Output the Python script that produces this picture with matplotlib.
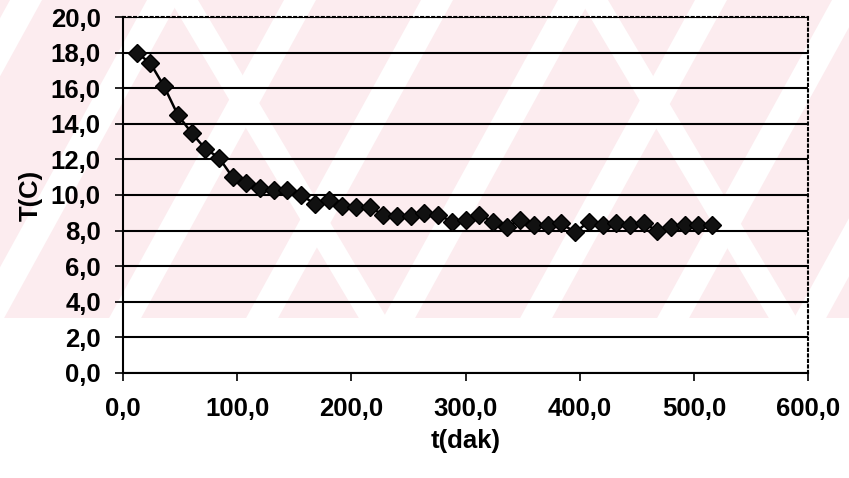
import matplotlib
matplotlib.use('Agg')
import matplotlib.pyplot as plt
from matplotlib.patches import Polygon, Rectangle
from matplotlib.ticker import FuncFormatter

plt.rcParams['font.family'] = ['Liberation Sans', 'DejaVu Sans']
plt.rcParams['font.weight'] = 'bold'

## Datos: temperatura vs tiempo
t_dak = [12, 24, 36, 48, 60, 72, 84, 96, 108, 120, 132, 144, 156, 168, 180,
         192, 204, 216, 228, 240, 252, 264, 276, 288, 300, 312, 324, 336, 348,
         360, 372, 384, 396, 408, 420, 432, 444, 456, 468, 480, 492, 504, 516]
temp = [18.0, 17.4, 16.1, 14.5, 13.5, 12.6, 12.1, 11.0, 10.7, 10.4, 10.3,
        10.3, 10.0, 9.5, 9.7, 9.4, 9.3, 9.3, 8.9, 8.8, 8.8, 9.0, 8.9, 8.5,
        8.6, 8.9, 8.5, 8.2, 8.6, 8.3, 8.3, 8.4, 7.9, 8.5, 8.3, 8.4, 8.3,
        8.4, 8.0, 8.2, 8.3, 8.3, 8.3]
xticks = [0, 100, 200, 300, 400, 500, 600]
yticks = [0, 2, 4, 6, 8, 10, 12, 14, 16, 18, 20]

W, H = 849, 478
fig = plt.figure(figsize=(W / 100, H / 100), dpi=100)

# fondo: marca de agua rosa con franjas diagonales
def px(pts):
    return [(x / W, 1 - y / H) for x, y in pts]

pink = '#fcecef'
band = Rectangle((0, 1 - 318 / H), 1, 318 / H, transform=fig.transFigure,
                 facecolor=pink, edgecolor='none', zorder=-5)
fig.add_artist(band)
for k in range(-3, 7):
    x0 = 245 + 137 * k
    p = Polygon(px([(x0, 320), (x0 + 32, 320), (x0 + 208, 0), (x0 + 176, 0)]),
                closed=True, transform=fig.transFigure, facecolor='white',
                edgecolor='none', zorder=-4)
    fig.add_artist(p)
    p.set_clip_path(band)
for x0 in [580, 170]:
    p = Polygon(px([(x0, 0), (x0 + 28, 0), (x0 + 28 + 190, 320), (x0 + 190, 320)]),
                closed=True, transform=fig.transFigure, facecolor='white',
                edgecolor='none', zorder=-4)
    fig.add_artist(p)
    p.set_clip_path(band)

ax = fig.add_axes([123 / W, 1 - 373 / H, (808 - 123) / W, (373 - 17) / H])
ax.set_facecolor('none')

ax.plot(t_dak, temp, color='black', linewidth=1.8, marker='D', markersize=9.5,
        markerfacecolor='#111111', markeredgecolor='black', zorder=3)

ax.set_xlim(0, 600)
ax.set_ylim(0, 20)
ax.set_xticks(xticks)
ax.set_yticks(yticks)
fmt = FuncFormatter(lambda v, pos: ('%.1f' % v).replace('.', ','))
ax.xaxis.set_major_formatter(fmt)
ax.yaxis.set_major_formatter(fmt)
ax.tick_params(axis='both', direction='out', length=6, width=1.2,
               labelsize=18.5, colors='black')
ax.tick_params(axis='x', pad=11)
ax.tick_params(axis='y', pad=10)

ax.yaxis.grid(True, color='black', linewidth=1.5)
ax.set_axisbelow(True)

for s in ['left', 'bottom']:
    ax.spines[s].set_linewidth(1.5)
for s in ['top', 'right']:
    ax.spines[s].set_linestyle(':')
    ax.spines[s].set_linewidth(1.5)

ax.set_xlabel('t(dak)', fontsize=18.5, fontweight='bold', labelpad=6)
ax.set_ylabel('T(C)', fontsize=18.5, fontweight='bold', labelpad=6)

plt.savefig('out.png', dpi=100)
